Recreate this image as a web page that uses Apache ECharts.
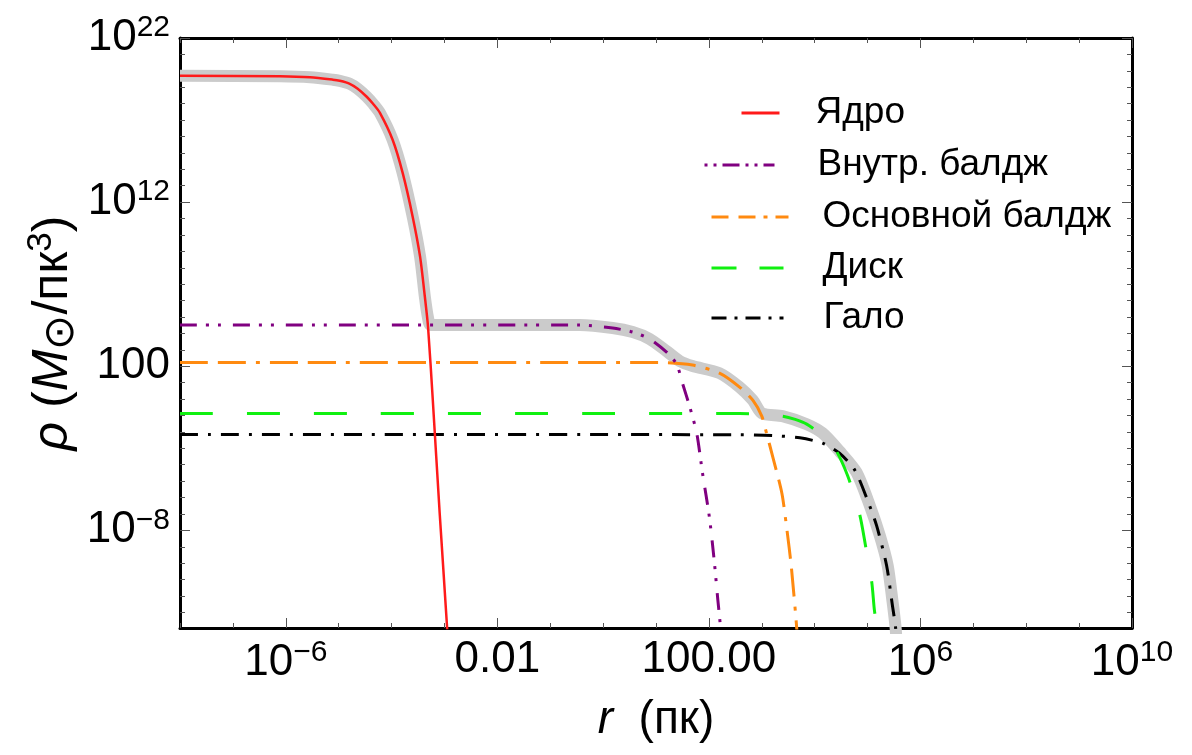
<!DOCTYPE html>
<html><head><meta charset="utf-8">
<script src="https://cdn.jsdelivr.net/npm/echarts@6/dist/echarts.min.js"></script>
<style>html,body{margin:0;padding:0;background:#fff}#c{width:1192px;height:755px}</style>
</head><body><div id="c"></div>
<script>
// All values are log10 of r (пк) and log10 of rho (M_sun/пк^3).
const coreLogR   = [-8, -6.11, -5.54, -5.11, -4.98, -4.79, -4.64, -4.47, -4.35, -4.22, -3.98, -3.79, -3.60, -3.46, -3.37, -3.31, -3.22, -3.09, -2.95, -2.92];
const coreLogRho = [19.70, 19.67, 19.61, 19.46, 19.39, 19.21, 18.91, 18.42, 17.99, 17.44, 15.80, 13.78, 11.10, 8.66, 6.22, 4.39, -0.07, -6.96, -13.92, -15.9];

const innerLogR   = [-8, -0.44, 0.18, 0.56, 0.88, 1.20, 1.39, 1.50, 1.64, 1.77, 1.88, 2.01, 2.10, 2.17, 2.22, 2.26];
const innerLogRho = [4.51, 4.51, 4.33, 4.08, 3.66, 2.86, 2.13, 0.97, -0.49, -2.08, -4.52, -7.21, -9.83, -12.27, -13.92, -15.93];

const mainLogR   = [-8, 1.07, 1.69, 2.20, 2.58, 2.83, 3.00, 3.09, 3.21, 3.38, 3.47, 3.56, 3.66, 3.70];
const mainLogRho = [2.22, 2.22, 2.07, 1.58, 0.73, -0.07, -1.04, -2.08, -3.55, -5.74, -7.82, -10.26, -13.92, -15.93];

const diskLogR   = [-8, 2.58, 3.39, 3.85, 4.34, 4.62, 4.85, 4.96, 5.08, 5.13, 5.19, 5.23];
const diskLogRho = [-0.88, -0.88, -1.04, -1.53, -2.81, -4.64, -7.02, -8.91, -11.17, -12.88, -14.10, -15.93];

const haloLogR   = [-8, 2.58, 3.21, 3.72, 4.15, 4.47, 4.76, 5.00, 5.17, 5.36, 5.47, 5.53, 5.57];
const haloLogRho = [-2.16, -2.17, -2.23, -2.36, -2.69, -3.30, -4.34, -6.17, -7.70, -10.14, -12.58, -13.92, -15.93];

const totalLogR   = [-8, -6.11, -5.54, -5.11, -4.98, -4.79, -4.64, -4.47, -4.35, -4.22, -3.98, -3.79, -3.60, -3.46, -3.37, -3.31, -3.26, -0.44, 0.18, 0.56, 0.88, 1.20, 1.45, 1.69, 2.20, 2.58, 2.83, 3.00, 3.39, 3.85, 4.15, 4.47, 4.79, 5.04, 5.23, 5.38, 5.47, 5.53, 5.57];
const totalLogRho = [19.70, 19.67, 19.61, 19.46, 19.39, 19.21, 18.91, 18.42, 17.99, 17.44, 15.80, 13.78, 11.10, 8.66, 6.22, 4.94, 4.51, 4.51, 4.33, 4.08, 3.66, 2.92, 2.31, 2.01, 1.58, 0.73, -0.07, -0.86, -1.04, -1.53, -2.08, -3.18, -4.46, -6.47, -8.30, -10.13, -12.27, -13.92, -15.93];

const seriesNames = ['Ядро', 'Внутр. балдж', 'Основной балдж', 'Диск', 'Гало'];

const xMajorTicks = [-6, -2, 2, 6, 10];
const xTickLabels = ['10^−6', '0.01', '100.00', '10^6', '10^10'];
const xMinorTicks = [-8, -7, -6, -5, -4, -3, -2, -1, 0, 1, 2, 3, 4, 5, 6, 7, 8, 9, 10];
const yMajorTicks = [-8, 2, 12, 22];
const yTickLabels = ['10^−8', '100', '10^12', '10^22'];
const yMinorTicks = [-13, -12, -11, -10, -9, -8, -7, -6, -5, -4, -3, -2, -1, 0, 1, 2, 3, 4, 5, 6, 7, 8, 9, 10, 11, 12, 13, 14, 15, 16, 17, 18, 19, 20, 21, 22];

const FONT = '"Liberation Sans", Arial, sans-serif';

function pairs(xs, ys) { return xs.map((x, i) => [x, ys[i]]); }
function tickFormatter(major, labels) {
  return function (v) {
    const i = major.findIndex(m => Math.abs(m - v) < 1e-6);
    if (i < 0) return '';
    const s = labels[i];
    if (s.indexOf('^') >= 0) { const p = s.split('^'); return '{b|' + p[0] + '}{s|' + p[1] + '}'; }
    return '{n|' + s + '}';
  };
}
const richTick = {
  b: { fontFamily: FONT, fontSize: 44, lineHeight: 50, color: '#000' },
  s: { fontFamily: FONT, fontSize: 30, lineHeight: 26, verticalAlign: 'top', color: '#000' },
  n: { fontFamily: FONT, fontSize: 44, lineHeight: 43, color: '#000' }
};
const tickLine = { color: '#555', width: 1 };
const frameLine = { show: true, onZero: false, lineStyle: { color: '#000', width: 3 } };
const hiddenLine = { show: false, onZero: false };

function xAxisDef(pos, major, withLabel) {
  return {
    type: 'value', min: -8, max: 10, position: pos, gridIndex: 0,
    axisLine: major ? hiddenLine : frameLine,
    axisTick: { show: true, inside: true, length: major ? 10 : 5, customValues: major ? xMajorTicks : xMinorTicks, lineStyle: tickLine },
    axisLabel: withLabel ? { show: true, customValues: xMajorTicks, formatter: tickFormatter(xMajorTicks, xTickLabels), margin: 10, rich: richTick } : { show: false },
    splitLine: { show: false }
  };
}
function yAxisDef(pos, major, withLabel) {
  return {
    type: 'value', min: -13.95, max: 22, position: pos, gridIndex: 0,
    axisLine: major ? hiddenLine : frameLine,
    axisTick: { show: true, inside: true, length: major ? 10 : 5, customValues: major ? yMajorTicks : yMinorTicks, lineStyle: tickLine },
    axisLabel: withLabel ? { show: true, customValues: yMajorTicks, formatter: tickFormatter(yMajorTicks, yTickLabels), margin: 10, rich: richTick } : { show: false },
    splitLine: { show: false }
  };
}

const xAxes = [xAxisDef('bottom', false, true), xAxisDef('bottom', true, false), xAxisDef('top', false, false), xAxisDef('top', true, false)];
Object.assign(xAxes[0], {
  name: '{i|r}  (пк)', nameLocation: 'middle', nameGap: 69, nameMoveOverlap: false,
  nameTextStyle: { fontFamily: FONT, fontSize: 46, color: '#000', rich: { i: { fontFamily: FONT, fontSize: 46, fontStyle: 'italic', color: '#000' } } }
});
const yAxes = [yAxisDef('left', false, true), yAxisDef('left', true, false), yAxisDef('right', false, false), yAxisDef('right', true, false)];
Object.assign(yAxes[0], {
  name: '{i|ρ} ({i|M}{sub|⊙}/пк{sup|3})', nameLocation: 'middle', nameGap: 98, nameMoveOverlap: false,
  nameTextStyle: { fontFamily: FONT, fontSize: 50, color: '#000', lineHeight: 58, rich: {
    i: { fontFamily: FONT, fontSize: 50, fontStyle: 'italic', color: '#000', lineHeight: 58 },
    sub: { fontFamily: FONT, fontSize: 42, color: '#000', lineHeight: 44, verticalAlign: 'bottom' },
    sup: { fontFamily: FONT, fontSize: 35, color: '#000', lineHeight: 28, verticalAlign: 'top' }
  } }
});

function lineSeries(name, xs, ys, color, width, dash, z) {
  return {
    name: name, type: 'line', data: pairs(xs, ys), xAxisIndex: 0, yAxisIndex: 0,
    symbol: 'none', smooth: 0.25, clip: true, z: z, silent: true,
    lineStyle: { color: color, width: width, type: dash, cap: 'butt', join: 'round' },
    itemStyle: { color: color }
  };
}

function legendItem(name, left, iconY, width, padLeft, diff, dash, dashOffset) {
  const pb = Math.round(2 * diff);
  const lg = {
    data: [name], left: left, top: iconY - (40 + pb) / 2, padding: 0,
    itemWidth: width, itemHeight: 14, selectedMode: false,
    itemStyle: { opacity: 0 },
    lineStyle: { type: dash, dashOffset: dashOffset || 0, width: 3 },
    textStyle: { fontFamily: FONT, fontSize: 37, color: '#000', lineHeight: 40, padding: [0, 0, pb, padLeft] }
  };
  return lg;
}

const chart = echarts.init(document.getElementById('c'), null, { renderer: 'canvas' });
chart.setOption({
  backgroundColor: '#fff',
  animation: false,
  grid: { left: 180, top: 38, width: 952, height: 590, containLabel: false, outerBoundsMode: 'none' },
  xAxis: xAxes,
  yAxis: yAxes,
  legend: [
    legendItem(seriesNames[0], 740, 113, 38, 31, 5.5, 'solid'),
    legendItem(seriesNames[1], 703, 165, 70, 38, 5.5, [17, 6, 3, 6, 3, 6], 23),
    legendItem(seriesNames[2], 710, 217, 77, 29, 7, [17, 10, 17, 8, 4, 8]),
    legendItem(seriesNames[3], 710, 268, 72, 34, 5.5, [25, 23]),
    legendItem(seriesNames[4], 710, 318, 72, 35, 7.5, [15, 8, 3, 8])
  ],
  series: [
    lineSeries('Всего', totalLogR, totalLogRho, '#cbcbcb', 12, 'solid', 1),
    lineSeries(seriesNames[4], haloLogR, haloLogRho, '#000000', 3, [18, 10, 3, 10], 2),
    lineSeries(seriesNames[3], diskLogR, diskLogRho, '#10f010', 3, [33, 34], 3),
    lineSeries(seriesNames[2], mainLogR, mainLogRho, '#ff8a10', 3, [28, 10, 28, 10, 4, 10], 4),
    lineSeries(seriesNames[1], innerLogR, innerLogRho, '#800080', 3, [17, 9, 3, 9, 3, 12], 5),
    lineSeries(seriesNames[0], coreLogR, coreLogRho, '#ff1a1a', 2.5, 'solid', 6)
  ]
});
</script>
</body></html>
